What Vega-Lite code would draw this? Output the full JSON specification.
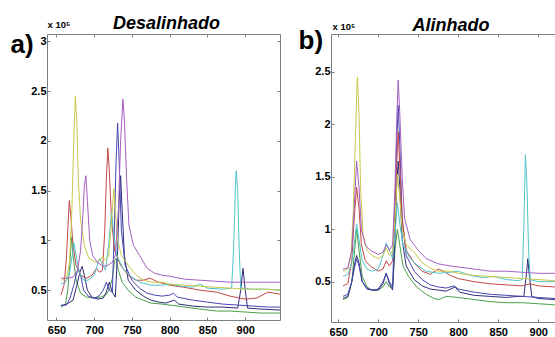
{
"$schema":"https://vega.github.io/schema/vega-lite/v6.json",
"background":"white",
"autosize":{"type":"pad"},
"padding":{"left":10,"top":15,"right":0,"bottom":0},
"spacing":51,
"bounds":"flush",
"config":{"view":{"stroke":null},
"axis":{"grid":false,"tickSize":-3,"domainColor":"#7f7f7f","tickColor":"#7f7f7f","labelFont":"Liberation Sans","labelFontSize":11,"labelFontWeight":"bold","labelColor":"#000","titleColor":"#000","titleFont":"Liberation Sans","titleFontWeight":"bold"}},
"datasets":{
"a":[
{"s":"green","x":656,"y":0.33},{"s":"green","x":662,"y":0.36},{"s":"green","x":665,"y":0.5},{"s":"green","x":668,"y":0.8},{"s":"green","x":670,"y":1.03},{"s":"green","x":672,"y":0.85},{"s":"green","x":676,"y":0.6},{"s":"green","x":682,"y":0.47},{"s":"green","x":690,"y":0.43},{"s":"green","x":700,"y":0.42},{"s":"green","x":708,"y":0.43},{"s":"green","x":715,"y":0.45},{"s":"green","x":720,"y":0.5},{"s":"green","x":724,"y":0.62},{"s":"green","x":727,"y":0.8},{"s":"green","x":729,"y":0.82},{"s":"green","x":732,"y":0.7},{"s":"green","x":737,"y":0.58},{"s":"green","x":745,"y":0.5},{"s":"green","x":755,"y":0.43},{"s":"green","x":765,"y":0.4},{"s":"green","x":775,"y":0.37},{"s":"green","x":790,"y":0.36},{"s":"green","x":800,"y":0.35},{"s":"green","x":820,"y":0.33},{"s":"green","x":840,"y":0.31},{"s":"green","x":862,"y":0.29},{"s":"green","x":880,"y":0.29},{"s":"green","x":900,"y":0.28},{"s":"green","x":920,"y":0.27},{"s":"green","x":946,"y":0.27},
{"s":"navy","x":656,"y":0.34},{"s":"navy","x":664,"y":0.36},{"s":"navy","x":672,"y":0.4},{"s":"navy","x":677,"y":0.55},{"s":"navy","x":681,"y":0.68},{"s":"navy","x":684,"y":0.74},{"s":"navy","x":687,"y":0.65},{"s":"navy","x":691,"y":0.5},{"s":"navy","x":697,"y":0.43},{"s":"navy","x":705,"y":0.41},{"s":"navy","x":712,"y":0.42},{"s":"navy","x":716,"y":0.48},{"s":"navy","x":720,"y":0.58},{"s":"navy","x":724,"y":0.48},{"s":"navy","x":728,"y":0.43},{"s":"navy","x":731,"y":0.9},{"s":"navy","x":733,"y":1.4},{"s":"navy","x":735,"y":1.65},{"s":"navy","x":737,"y":1.3},{"s":"navy","x":740,"y":0.85},{"s":"navy","x":745,"y":0.6},{"s":"navy","x":755,"y":0.5},{"s":"navy","x":765,"y":0.44},{"s":"navy","x":775,"y":0.4},{"s":"navy","x":785,"y":0.38},{"s":"navy","x":795,"y":0.37},{"s":"navy","x":806,"y":0.4},{"s":"navy","x":812,"y":0.36},{"s":"navy","x":830,"y":0.34},{"s":"navy","x":850,"y":0.33},{"s":"navy","x":870,"y":0.33},{"s":"navy","x":890,"y":0.32},{"s":"navy","x":894,"y":0.5},{"s":"navy","x":897,"y":0.72},{"s":"navy","x":900,"y":0.5},{"s":"navy","x":903,"y":0.32},{"s":"navy","x":920,"y":0.31},{"s":"navy","x":946,"y":0.3},
{"s":"blue","x":656,"y":0.35},{"s":"blue","x":663,"y":0.35},{"s":"blue","x":668,"y":0.42},{"s":"blue","x":673,"y":0.55},{"s":"blue","x":676,"y":0.65},{"s":"blue","x":679,"y":0.72},{"s":"blue","x":682,"y":0.65},{"s":"blue","x":686,"y":0.5},{"s":"blue","x":692,"y":0.44},{"s":"blue","x":700,"y":0.42},{"s":"blue","x":706,"y":0.44},{"s":"blue","x":712,"y":0.5},{"s":"blue","x":716,"y":0.58},{"s":"blue","x":720,"y":0.5},{"s":"blue","x":724,"y":0.48},{"s":"blue","x":727,"y":1.2},{"s":"blue","x":729,"y":1.8},{"s":"blue","x":731,"y":2.18},{"s":"blue","x":733,"y":1.8},{"s":"blue","x":736,"y":1.1},{"s":"blue","x":741,"y":0.75},{"s":"blue","x":750,"y":0.6},{"s":"blue","x":760,"y":0.52},{"s":"blue","x":770,"y":0.47},{"s":"blue","x":780,"y":0.45},{"s":"blue","x":790,"y":0.44},{"s":"blue","x":800,"y":0.45},{"s":"blue","x":805,"y":0.47},{"s":"blue","x":810,"y":0.43},{"s":"blue","x":830,"y":0.4},{"s":"blue","x":850,"y":0.38},{"s":"blue","x":870,"y":0.36},{"s":"blue","x":890,"y":0.35},{"s":"blue","x":910,"y":0.34},{"s":"blue","x":930,"y":0.33},{"s":"blue","x":946,"y":0.33},
{"s":"red","x":656,"y":0.45},{"s":"red","x":660,"y":0.55},{"s":"red","x":663,"y":0.8},{"s":"red","x":665,"y":1.1},{"s":"red","x":667,"y":1.4},{"s":"red","x":669,"y":1.25},{"s":"red","x":672,"y":0.95},{"s":"red","x":676,"y":0.75},{"s":"red","x":682,"y":0.65},{"s":"red","x":690,"y":0.62},{"s":"red","x":697,"y":0.65},{"s":"red","x":703,"y":0.72},{"s":"red","x":707,"y":0.68},{"s":"red","x":711,"y":0.7},{"s":"red","x":714,"y":1.1},{"s":"red","x":716,"y":1.6},{"s":"red","x":718,"y":1.93},{"s":"red","x":720,"y":1.7},{"s":"red","x":723,"y":1.2},{"s":"red","x":727,"y":0.9},{"s":"red","x":735,"y":0.75},{"s":"red","x":745,"y":0.65},{"s":"red","x":755,"y":0.6},{"s":"red","x":765,"y":0.6},{"s":"red","x":774,"y":0.62},{"s":"red","x":785,"y":0.58},{"s":"red","x":800,"y":0.55},{"s":"red","x":818,"y":0.53},{"s":"red","x":840,"y":0.5},{"s":"red","x":862,"y":0.48},{"s":"red","x":880,"y":0.44},{"s":"red","x":900,"y":0.41},{"s":"red","x":915,"y":0.42},{"s":"red","x":930,"y":0.48},{"s":"red","x":946,"y":0.46},
{"s":"cyan","x":656,"y":0.56},{"s":"cyan","x":662,"y":0.58},{"s":"cyan","x":667,"y":0.66},{"s":"cyan","x":670,"y":0.8},{"s":"cyan","x":673,"y":0.98},{"s":"cyan","x":676,"y":0.85},{"s":"cyan","x":680,"y":0.68},{"s":"cyan","x":686,"y":0.6},{"s":"cyan","x":692,"y":0.6},{"s":"cyan","x":700,"y":0.65},{"s":"cyan","x":704,"y":0.75},{"s":"cyan","x":707,"y":0.82},{"s":"cyan","x":711,"y":0.76},{"s":"cyan","x":715,"y":0.7},{"s":"cyan","x":719,"y":0.95},{"s":"cyan","x":723,"y":1.29},{"s":"cyan","x":726,"y":1.05},{"s":"cyan","x":730,"y":0.85},{"s":"cyan","x":738,"y":0.72},{"s":"cyan","x":748,"y":0.64},{"s":"cyan","x":760,"y":0.58},{"s":"cyan","x":775,"y":0.55},{"s":"cyan","x":790,"y":0.55},{"s":"cyan","x":800,"y":0.56},{"s":"cyan","x":815,"y":0.54},{"s":"cyan","x":830,"y":0.53},{"s":"cyan","x":840,"y":0.56},{"s":"cyan","x":850,"y":0.52},{"s":"cyan","x":870,"y":0.51},{"s":"cyan","x":882,"y":0.52},{"s":"cyan","x":885,"y":1.0},{"s":"cyan","x":887,"y":1.55},{"s":"cyan","x":888,"y":1.7},{"s":"cyan","x":890,"y":1.5},{"s":"cyan","x":892,"y":0.9},{"s":"cyan","x":894,"y":0.52},{"s":"cyan","x":910,"y":0.51},{"s":"cyan","x":930,"y":0.51},{"s":"cyan","x":946,"y":0.5},
{"s":"yellow","x":657,"y":0.6},{"s":"yellow","x":663,"y":0.62},{"s":"yellow","x":667,"y":0.75},{"s":"yellow","x":670,"y":1.2},{"s":"yellow","x":673,"y":2.0},{"s":"yellow","x":675,"y":2.45},{"s":"yellow","x":677,"y":2.2},{"s":"yellow","x":679,"y":1.6},{"s":"yellow","x":682,"y":1.2},{"s":"yellow","x":687,"y":0.95},{"s":"yellow","x":693,"y":0.82},{"s":"yellow","x":701,"y":0.78},{"s":"yellow","x":707,"y":0.8},{"s":"yellow","x":711,"y":0.84},{"s":"yellow","x":715,"y":0.8},{"s":"yellow","x":719,"y":0.84},{"s":"yellow","x":722,"y":1.1},{"s":"yellow","x":726,"y":1.52},{"s":"yellow","x":728,"y":1.3},{"s":"yellow","x":731,"y":1.0},{"s":"yellow","x":736,"y":0.85},{"s":"yellow","x":746,"y":0.74},{"s":"yellow","x":756,"y":0.65},{"s":"yellow","x":766,"y":0.6},{"s":"yellow","x":776,"y":0.58},{"s":"yellow","x":790,"y":0.58},{"s":"yellow","x":800,"y":0.56},{"s":"yellow","x":820,"y":0.55},{"s":"yellow","x":840,"y":0.54},{"s":"yellow","x":860,"y":0.53},{"s":"yellow","x":880,"y":0.52},{"s":"yellow","x":900,"y":0.51},{"s":"yellow","x":920,"y":0.51},{"s":"yellow","x":946,"y":0.5},
{"s":"purple","x":656,"y":0.62},{"s":"purple","x":665,"y":0.62},{"s":"purple","x":672,"y":0.63},{"s":"purple","x":678,"y":0.7},{"s":"purple","x":682,"y":0.9},{"s":"purple","x":685,"y":1.25},{"s":"purple","x":687,"y":1.55},{"s":"purple","x":689,"y":1.65},{"s":"purple","x":691,"y":1.4},{"s":"purple","x":694,"y":1.0},{"s":"purple","x":698,"y":0.85},{"s":"purple","x":704,"y":0.78},{"s":"purple","x":712,"y":0.74},{"s":"purple","x":718,"y":0.75},{"s":"purple","x":724,"y":0.78},{"s":"purple","x":728,"y":0.85},{"s":"purple","x":732,"y":1.3},{"s":"purple","x":735,"y":2.0},{"s":"purple","x":738,"y":2.42},{"s":"purple","x":740,"y":2.2},{"s":"purple","x":743,"y":1.6},{"s":"purple","x":746,"y":1.15},{"s":"purple","x":752,"y":0.95},{"s":"purple","x":760,"y":0.85},{"s":"purple","x":770,"y":0.72},{"s":"purple","x":780,"y":0.67},{"s":"purple","x":790,"y":0.65},{"s":"purple","x":800,"y":0.64},{"s":"purple","x":820,"y":0.61},{"s":"purple","x":840,"y":0.6},{"s":"purple","x":860,"y":0.59},{"s":"purple","x":880,"y":0.58},{"s":"purple","x":900,"y":0.58},{"s":"purple","x":920,"y":0.58},{"s":"purple","x":946,"y":0.58}
],
"b":[
{"s":"green","x":656,"y":0.33},{"s":"green","x":662,"y":0.35},{"s":"green","x":667,"y":0.5},{"s":"green","x":670,"y":0.75},{"s":"green","x":673,"y":1.0},{"s":"green","x":676,"y":0.8},{"s":"green","x":680,"y":0.55},{"s":"green","x":686,"y":0.45},{"s":"green","x":692,"y":0.42},{"s":"green","x":700,"y":0.42},{"s":"green","x":706,"y":0.45},{"s":"green","x":710,"y":0.5},{"s":"green","x":714,"y":0.45},{"s":"green","x":718,"y":0.45},{"s":"green","x":721,"y":0.8},{"s":"green","x":724,"y":1.0},{"s":"green","x":727,"y":0.85},{"s":"green","x":731,"y":0.65},{"s":"green","x":738,"y":0.55},{"s":"green","x":748,"y":0.45},{"s":"green","x":760,"y":0.38},{"s":"green","x":770,"y":0.34},{"s":"green","x":776,"y":0.33},{"s":"green","x":785,"y":0.36},{"s":"green","x":800,"y":0.35},{"s":"green","x":820,"y":0.33},{"s":"green","x":840,"y":0.31},{"s":"green","x":860,"y":0.3},{"s":"green","x":880,"y":0.3},{"s":"green","x":900,"y":0.29},{"s":"green","x":920,"y":0.28},{"s":"green","x":946,"y":0.27},
{"s":"navy","x":656,"y":0.34},{"s":"navy","x":662,"y":0.36},{"s":"navy","x":667,"y":0.5},{"s":"navy","x":670,"y":0.65},{"s":"navy","x":673,"y":0.75},{"s":"navy","x":676,"y":0.68},{"s":"navy","x":680,"y":0.5},{"s":"navy","x":686,"y":0.43},{"s":"navy","x":692,"y":0.42},{"s":"navy","x":700,"y":0.42},{"s":"navy","x":706,"y":0.48},{"s":"navy","x":710,"y":0.58},{"s":"navy","x":714,"y":0.48},{"s":"navy","x":718,"y":0.42},{"s":"navy","x":721,"y":0.9},{"s":"navy","x":723,"y":1.4},{"s":"navy","x":725,"y":1.65},{"s":"navy","x":727,"y":1.4},{"s":"navy","x":730,"y":0.9},{"s":"navy","x":735,"y":0.65},{"s":"navy","x":745,"y":0.52},{"s":"navy","x":755,"y":0.46},{"s":"navy","x":765,"y":0.43},{"s":"navy","x":775,"y":0.42},{"s":"navy","x":785,"y":0.41},{"s":"navy","x":796,"y":0.45},{"s":"navy","x":802,"y":0.4},{"s":"navy","x":820,"y":0.37},{"s":"navy","x":840,"y":0.36},{"s":"navy","x":860,"y":0.35},{"s":"navy","x":875,"y":0.36},{"s":"navy","x":882,"y":0.36},{"s":"navy","x":885,"y":0.55},{"s":"navy","x":887,"y":0.72},{"s":"navy","x":889,"y":0.55},{"s":"navy","x":892,"y":0.36},{"s":"navy","x":900,"y":0.34},{"s":"navy","x":920,"y":0.33},{"s":"navy","x":946,"y":0.32},
{"s":"blue","x":656,"y":0.36},{"s":"blue","x":662,"y":0.38},{"s":"blue","x":667,"y":0.5},{"s":"blue","x":670,"y":0.62},{"s":"blue","x":673,"y":0.72},{"s":"blue","x":676,"y":0.65},{"s":"blue","x":680,"y":0.5},{"s":"blue","x":686,"y":0.44},{"s":"blue","x":692,"y":0.42},{"s":"blue","x":700,"y":0.43},{"s":"blue","x":706,"y":0.5},{"s":"blue","x":710,"y":0.58},{"s":"blue","x":714,"y":0.5},{"s":"blue","x":718,"y":0.45},{"s":"blue","x":721,"y":1.2},{"s":"blue","x":723,"y":1.8},{"s":"blue","x":725,"y":2.18},{"s":"blue","x":727,"y":1.8},{"s":"blue","x":730,"y":1.1},{"s":"blue","x":735,"y":0.75},{"s":"blue","x":745,"y":0.6},{"s":"blue","x":755,"y":0.52},{"s":"blue","x":765,"y":0.47},{"s":"blue","x":775,"y":0.45},{"s":"blue","x":785,"y":0.44},{"s":"blue","x":795,"y":0.46},{"s":"blue","x":800,"y":0.43},{"s":"blue","x":820,"y":0.4},{"s":"blue","x":840,"y":0.38},{"s":"blue","x":860,"y":0.37},{"s":"blue","x":880,"y":0.36},{"s":"blue","x":900,"y":0.35},{"s":"blue","x":920,"y":0.34},{"s":"blue","x":946,"y":0.33},
{"s":"red","x":656,"y":0.46},{"s":"red","x":662,"y":0.48},{"s":"red","x":667,"y":0.7},{"s":"red","x":670,"y":1.1},{"s":"red","x":673,"y":1.4},{"s":"red","x":676,"y":1.2},{"s":"red","x":679,"y":0.85},{"s":"red","x":684,"y":0.7},{"s":"red","x":690,"y":0.65},{"s":"red","x":700,"y":0.6},{"s":"red","x":706,"y":0.62},{"s":"red","x":710,"y":0.7},{"s":"red","x":714,"y":0.65},{"s":"red","x":718,"y":0.7},{"s":"red","x":721,"y":1.2},{"s":"red","x":723,"y":1.6},{"s":"red","x":725,"y":1.93},{"s":"red","x":727,"y":1.6},{"s":"red","x":730,"y":1.1},{"s":"red","x":735,"y":0.8},{"s":"red","x":745,"y":0.68},{"s":"red","x":755,"y":0.6},{"s":"red","x":765,"y":0.57},{"s":"red","x":775,"y":0.62},{"s":"red","x":782,"y":0.6},{"s":"red","x":790,"y":0.56},{"s":"red","x":800,"y":0.53},{"s":"red","x":820,"y":0.5},{"s":"red","x":840,"y":0.48},{"s":"red","x":860,"y":0.47},{"s":"red","x":880,"y":0.46},{"s":"red","x":890,"y":0.48},{"s":"red","x":900,"y":0.46},{"s":"red","x":920,"y":0.45},{"s":"red","x":946,"y":0.44},
{"s":"cyan","x":656,"y":0.55},{"s":"cyan","x":662,"y":0.57},{"s":"cyan","x":667,"y":0.68},{"s":"cyan","x":670,"y":0.85},{"s":"cyan","x":673,"y":1.05},{"s":"cyan","x":676,"y":0.9},{"s":"cyan","x":680,"y":0.7},{"s":"cyan","x":686,"y":0.62},{"s":"cyan","x":692,"y":0.6},{"s":"cyan","x":700,"y":0.62},{"s":"cyan","x":706,"y":0.75},{"s":"cyan","x":710,"y":0.87},{"s":"cyan","x":714,"y":0.8},{"s":"cyan","x":718,"y":0.72},{"s":"cyan","x":721,"y":0.95},{"s":"cyan","x":724,"y":1.25},{"s":"cyan","x":727,"y":1.05},{"s":"cyan","x":731,"y":0.85},{"s":"cyan","x":740,"y":0.72},{"s":"cyan","x":750,"y":0.65},{"s":"cyan","x":760,"y":0.6},{"s":"cyan","x":775,"y":0.58},{"s":"cyan","x":790,"y":0.59},{"s":"cyan","x":800,"y":0.6},{"s":"cyan","x":815,"y":0.56},{"s":"cyan","x":830,"y":0.54},{"s":"cyan","x":845,"y":0.55},{"s":"cyan","x":860,"y":0.52},{"s":"cyan","x":875,"y":0.51},{"s":"cyan","x":880,"y":0.52},{"s":"cyan","x":882,"y":1.0},{"s":"cyan","x":884,"y":1.71},{"s":"cyan","x":886,"y":1.4},{"s":"cyan","x":888,"y":0.8},{"s":"cyan","x":890,"y":0.52},{"s":"cyan","x":900,"y":0.5},{"s":"cyan","x":920,"y":0.5},{"s":"cyan","x":946,"y":0.49},
{"s":"yellow","x":656,"y":0.6},{"s":"yellow","x":662,"y":0.62},{"s":"yellow","x":666,"y":0.75},{"s":"yellow","x":669,"y":1.2},{"s":"yellow","x":672,"y":2.0},{"s":"yellow","x":674,"y":2.45},{"s":"yellow","x":676,"y":2.1},{"s":"yellow","x":678,"y":1.4},{"s":"yellow","x":681,"y":0.95},{"s":"yellow","x":686,"y":0.8},{"s":"yellow","x":692,"y":0.75},{"s":"yellow","x":700,"y":0.72},{"s":"yellow","x":706,"y":0.75},{"s":"yellow","x":710,"y":0.82},{"s":"yellow","x":714,"y":0.75},{"s":"yellow","x":718,"y":0.8},{"s":"yellow","x":721,"y":1.1},{"s":"yellow","x":724,"y":1.52},{"s":"yellow","x":727,"y":1.3},{"s":"yellow","x":730,"y":1.0},{"s":"yellow","x":735,"y":0.85},{"s":"yellow","x":745,"y":0.78},{"s":"yellow","x":755,"y":0.68},{"s":"yellow","x":765,"y":0.63},{"s":"yellow","x":775,"y":0.6},{"s":"yellow","x":790,"y":0.6},{"s":"yellow","x":800,"y":0.58},{"s":"yellow","x":820,"y":0.56},{"s":"yellow","x":840,"y":0.55},{"s":"yellow","x":860,"y":0.54},{"s":"yellow","x":880,"y":0.53},{"s":"yellow","x":900,"y":0.52},{"s":"yellow","x":920,"y":0.51},{"s":"yellow","x":946,"y":0.5},
{"s":"purple","x":656,"y":0.62},{"s":"purple","x":662,"y":0.63},{"s":"purple","x":667,"y":0.8},{"s":"purple","x":670,"y":1.2},{"s":"purple","x":673,"y":1.65},{"s":"purple","x":676,"y":1.4},{"s":"purple","x":679,"y":1.0},{"s":"purple","x":684,"y":0.85},{"s":"purple","x":690,"y":0.8},{"s":"purple","x":700,"y":0.76},{"s":"purple","x":706,"y":0.78},{"s":"purple","x":710,"y":0.85},{"s":"purple","x":714,"y":0.8},{"s":"purple","x":718,"y":0.85},{"s":"purple","x":721,"y":1.4},{"s":"purple","x":723,"y":2.0},{"s":"purple","x":725,"y":2.42},{"s":"purple","x":727,"y":2.1},{"s":"purple","x":730,"y":1.5},{"s":"purple","x":733,"y":1.1},{"s":"purple","x":740,"y":0.9},{"s":"purple","x":750,"y":0.8},{"s":"purple","x":760,"y":0.72},{"s":"purple","x":775,"y":0.67},{"s":"purple","x":790,"y":0.65},{"s":"purple","x":800,"y":0.64},{"s":"purple","x":820,"y":0.62},{"s":"purple","x":840,"y":0.6},{"s":"purple","x":860,"y":0.6},{"s":"purple","x":880,"y":0.59},{"s":"purple","x":900,"y":0.58},{"s":"purple","x":920,"y":0.58},{"s":"purple","x":946,"y":0.57}
]},
"hconcat":[
{"width":233,"height":286,
"title":{"text":"Desalinhado","font":"Liberation Sans","fontSize":18,"fontWeight":"bold","fontStyle":"italic","color":"#000","anchor":"middle","frame":"group","offset":-28,"baseline":"alphabetic","dx":3},
"data":{"name":"a"},
"layer":[
{"mark":{"type":"line","strokeWidth":1,"clip":true},
"encoding":{
"x":{"field":"x","type":"quantitative","scale":{"domain":[637.5,946],"nice":false,"zero":false},"axis":{"orient":"bottom","values":[650,700,750,800,850,900],"format":"d","title":null,"labelPadding":7}},
"y":{"field":"y","type":"quantitative","scale":{"domain":[0.2,3.075],"nice":false,"zero":false},"axis":{"orient":"left","values":[0.5,1,1.5,2,2.5,3],"format":"~g","labelPadding":4,"title":"a)","titleAngle":0,"titleX":-37,"titleY":10,"titleAlign":"left","titleBaseline":"middle","titleFontSize":26}},
"color":{"field":"s","type":"nominal","scale":{"domain":["green","navy","blue","red","cyan","yellow","purple"],"range":["#4a9e4a","#2e2e7a","#4646b4","#c24848","#50c4c8","#c9c94a","#a55fc0"]},"legend":null}}},
{"mark":{"type":"line","strokeOpacity":0,"clip":true},
"encoding":{
"x":{"field":"x","type":"quantitative","axis":{"orient":"top","values":[650,700,750,800,850,900],"labels":false,"title":"x 10⁵","titleX":0,"titleY":-7,"titleAngle":0,"titleAlign":"left","titleBaseline":"alphabetic","titleFontSize":9.5}},
"y":{"field":"y","type":"quantitative","axis":{"orient":"right","values":[0.5,1,1.5,2,2.5,3],"labels":false,"title":null}},
"detail":{"field":"s"}}}
],
"resolve":{"axis":{"x":"independent","y":"independent"}}},
{"width":224,"height":288,
"title":{"text":"Alinhado","font":"Liberation Sans","fontSize":18,"fontWeight":"bold","fontStyle":"italic","color":"#000","anchor":"middle","frame":"group","offset":-28,"baseline":"alphabetic","dx":8},
"data":{"name":"b"},
"layer":[
{"mark":{"type":"line","strokeWidth":1,"clip":true},
"encoding":{
"x":{"field":"x","type":"quantitative","scale":{"domain":[641,921],"nice":false,"zero":false},"axis":{"orient":"bottom","values":[650,700,750,800,850,900],"format":"d","title":null,"labelPadding":7}},
"y":{"field":"y","type":"quantitative","scale":{"domain":[0.116,2.86],"nice":false,"zero":false},"axis":{"orient":"left","values":[0.5,1,1.5,2,2.5],"format":"~g","labelPadding":4,"title":"b)","titleAngle":0,"titleX":-33,"titleY":6,"titleAlign":"left","titleBaseline":"middle","titleFontSize":26}},
"color":{"field":"s","type":"nominal","scale":{"domain":["green","navy","blue","red","cyan","yellow","purple"],"range":["#4a9e4a","#2e2e7a","#4646b4","#c24848","#50c4c8","#c9c94a","#a55fc0"]},"legend":null}}},
{"mark":{"type":"line","strokeOpacity":0,"clip":true},
"encoding":{
"x":{"field":"x","type":"quantitative","axis":{"orient":"top","values":[650,700,750,800,850,900],"labels":false,"title":"x 10⁵","titleX":1,"titleY":-5,"titleAngle":0,"titleAlign":"left","titleBaseline":"alphabetic","titleFontSize":9.5}},
"y":{"field":"y","type":"quantitative","axis":null},
"detail":{"field":"s"}}}
],
"resolve":{"axis":{"x":"independent","y":"independent"}}}
]
}
